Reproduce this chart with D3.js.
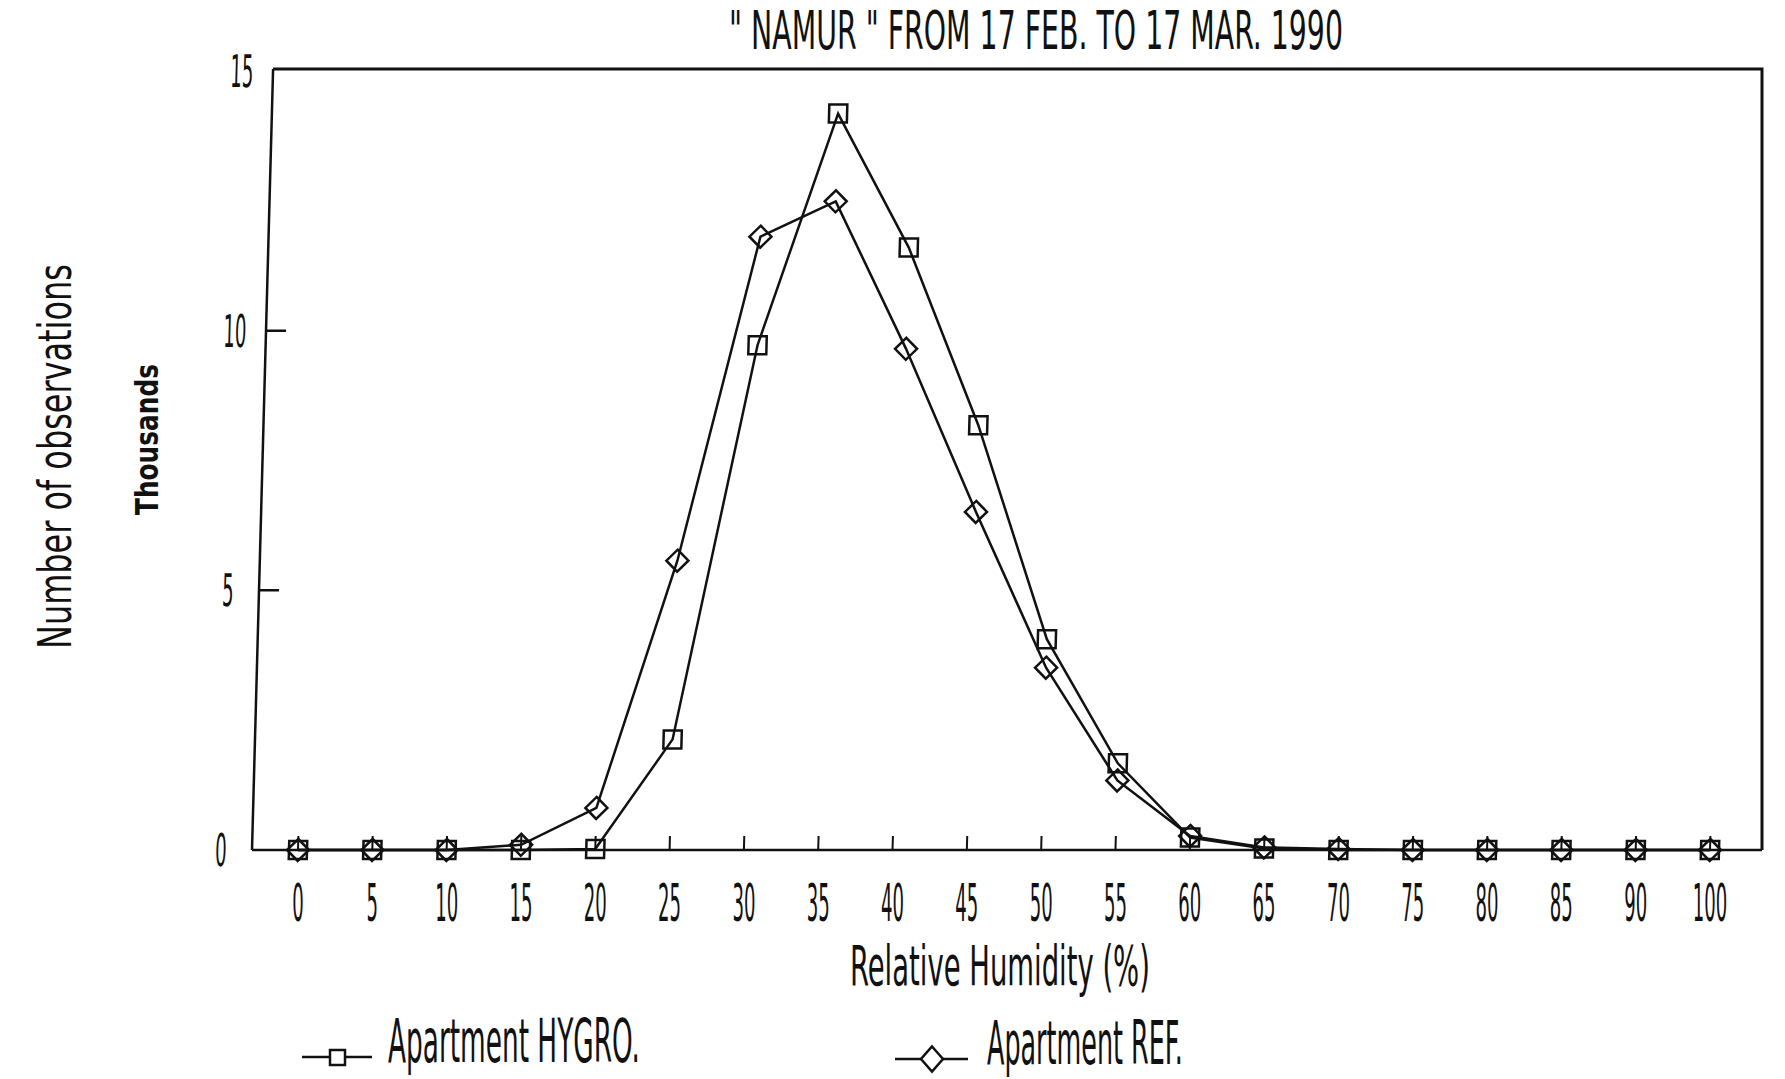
<!DOCTYPE html>
<html>
<head>
<meta charset="utf-8">
<script src="https://cdn.jsdelivr.net/npm/d3@7"></script>
<style>
  body { margin: 0; background: #fff; }
  text { font-family: 'Liberation Sans Narrow', 'DejaVu Sans Condensed', 'Liberation Sans', sans-serif; fill: #111; }
</style>
</head>
<body>
<script>
// categories of relative humidity (%) - note the last one is 100, not 95
const categories = ["0", "5", "10", "15", "20", "25", "30", "35", "40", "45", "50", "55", "60", "65", "70", "75", "80", "85", "90", "100"];
// number of observations, thousands
const hygro = [0, 0, 0, 0, 0.02, 2.13, 9.72, 14.18, 11.6, 8.18, 4.06, 1.67, 0.24, 0.03, 0, 0, 0, 0, 0, 0];
const ref   = [0, 0, 0, 0.1, 0.81, 5.57, 11.81, 12.49, 9.65, 6.51, 3.51, 1.34, 0.27, 0.05, 0.02, 0, 0, 0, 0, 0];
const yTicks = [0, 5, 10, 15];
const seriesNames = ["Apartment HYGRO.", "Apartment REF."];

const W = 1785, H = 1079;
const svg = d3.select("body").append("svg")
    .attr("width", W)
    .attr("height", H);

const x = d3.scalePoint().domain(categories).range([298, 1710]);
const y = d3.scaleLinear().domain([0, 15]).range([850, 71]);
const xLeft = 252, xRight = 1762;

// squeeze a text horizontally to a given width (the plotter font is very narrow)
function narrow(sel, tx, ty, width, rot) {
    const len = sel.node().getComputedTextLength();
    sel.attr("transform", `translate(${tx},${ty})${rot ? ` rotate(${rot})` : ""} scale(${width / len},1)`);
    return sel;
}

// the scanned page is a bit sheared, left side leans to the right going up
const shear = Math.atan(0.027) * 180 / Math.PI;
const plot = svg.append("g")
    .attr("transform", `translate(0,${y(0)}) skewX(${-shear}) translate(0,${-y(0)})`);

// left axis + baseline
plot.append("line")
    .attr("x1", xLeft).attr("x2", xLeft)
    .attr("y1", y(0)).attr("y2", y(15) - 2)
    .attr("stroke", "#111").attr("stroke-width", 2.5);
plot.append("line")
    .attr("x1", xLeft).attr("x2", xRight)
    .attr("y1", y(0)).attr("y2", y(0))
    .attr("stroke", "#111").attr("stroke-width", 2.5);

// top and right border (not sheared)
const topX = xLeft + 0.027 * (y(0) - y(15));
svg.append("path")
    .attr("d", `M${topX},${y(15) - 2}H${xRight}V${y(0)}`)
    .attr("fill", "none").attr("stroke", "#111").attr("stroke-width", 3);

// y ticks, pointing inward
plot.selectAll(".ytick")
    .data(yTicks.filter(d => d > 0 && d < 15))
    .enter().append("line")
    .attr("x1", xLeft).attr("x2", xLeft + 20)
    .attr("y1", d => y(d)).attr("y2", d => y(d))
    .attr("stroke", "#111").attr("stroke-width", 2.5);

// y tick labels
plot.selectAll(".ylab")
    .data(yTicks)
    .enter().append("text")
    .attr("text-anchor", "middle")
    .style("font-size", "45px")
    .text(d => d)
    .each(function (d) {
        narrow(d3.select(this), xLeft - 31, y(d) + 16, String(d).length * 11.5);
    });

// x ticks, pointing up
plot.selectAll(".xtick")
    .data(categories)
    .enter().append("line")
    .attr("x1", d => x(d)).attr("x2", d => x(d))
    .attr("y1", y(0)).attr("y2", y(0) - 14)
    .attr("stroke", "#111").attr("stroke-width", 2);

// x tick labels
svg.selectAll(".xlab")
    .data(categories)
    .enter().append("text")
    .attr("text-anchor", "middle")
    .style("font-size", "52px")
    .text(d => d)
    .each(function (d) {
        narrow(d3.select(this), x(d), 921, d.length * 11.5);
    });

// series lines
const line = d3.line()
    .x((d, i) => x(categories[i]))
    .y(d => y(d));

[hygro, ref].forEach(s => {
    plot.append("path")
        .datum(s)
        .attr("d", line)
        .attr("fill", "none")
        .attr("stroke", "#111")
        .attr("stroke-width", 2.5);
});

const diamond = (r, h) => `M0,${-h}L${r},0L0,${h}L${-r},0Z`;

// markers
plot.selectAll(".sq")
    .data(hygro)
    .enter().append("rect")
    .attr("x", (d, i) => x(categories[i]) - 9)
    .attr("y", d => y(d) - 9)
    .attr("width", 18).attr("height", 18)
    .attr("fill", "none").attr("stroke", "#111").attr("stroke-width", 2.5);

plot.selectAll(".dm")
    .data(ref)
    .enter().append("path")
    .attr("transform", (d, i) => `translate(${x(categories[i])},${y(d)})`)
    .attr("d", diamond(11, 11))
    .attr("fill", "none").attr("stroke", "#111").attr("stroke-width", 2.5);

// titles
narrow(svg.append("text").style("font-size", "54px")
    .text('" NAMUR " FROM 17 FEB. TO 17 MAR. 1990'), 729, 49, 614);

narrow(svg.append("text").style("font-size", "46px")
    .text("Number of observations"), 71, 649, 385, -90);

narrow(svg.append("text").style("font-size", "32px").style("font-weight", "bold")
    .text("Thousands"), 158, 515, 151, -90);

narrow(svg.append("text").style("font-size", "56px")
    .text("Relative Humidity (%)"), 850, 985, 300);

// legend
const legend = svg.append("g");
legend.append("line")
    .attr("x1", 302).attr("x2", 372).attr("y1", 1057).attr("y2", 1057)
    .attr("stroke", "#111").attr("stroke-width", 2.5);
legend.append("rect")
    .attr("x", 330).attr("y", 1050).attr("width", 15).attr("height", 15)
    .attr("fill", "#fff").attr("stroke", "#111").attr("stroke-width", 2.5);
narrow(legend.append("text").style("font-size", "60px").text(seriesNames[0]), 388, 1062, 252);

legend.append("line")
    .attr("x1", 895).attr("x2", 968).attr("y1", 1059).attr("y2", 1059)
    .attr("stroke", "#111").attr("stroke-width", 2.5);
legend.append("path")
    .attr("transform", "translate(932,1059)")
    .attr("d", diamond(11, 12.5))
    .attr("fill", "#fff").attr("stroke", "#111").attr("stroke-width", 2.5);
narrow(legend.append("text").style("font-size", "60px").text(seriesNames[1]), 987, 1064, 196);
</script>
</body>
</html>
